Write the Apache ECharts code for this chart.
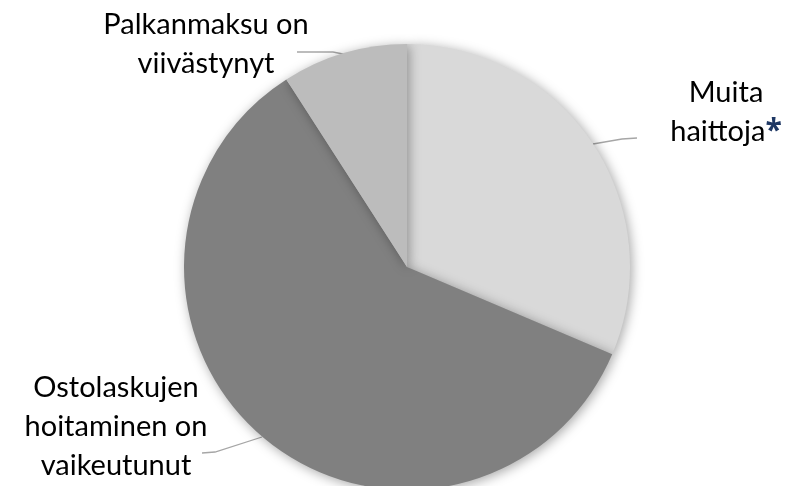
<!DOCTYPE html>
<html>
<head>
<meta charset="utf-8">
<script src="https://cdn.jsdelivr.net/npm/echarts@6/dist/echarts.min.js"></script>
<style>
  html, body { margin: 0; padding: 0; background: #fff; }
  #chart { width: 785px; height: 486px; }
</style>
</head>
<body>
<div id="chart"></div>
<script>
// slice names and shares (%), clockwise from 12 o'clock
const categories = ['Muita haittoja', 'Ostolaskujen hoitaminen on vaikeutunut', 'Palkanmaksu on viivästynyt'];
const labelTexts = ['Muita\n{t|haittoja}{s|*}', 'Ostolaskujen\nhoitaminen on\nvaikeutunut', 'Palkanmaksu on\nviivästynyt'];
const values = [31.4, 59.5, 9.1];
const colors = ['#d9d9d9', '#808080', '#bcbcbc'];

// where each label sits and how its leader line runs
const labelPlaces = [
    { x: 726, y: 112, line: [[593, 144], [622, 139], [637, 138]] },
    { x: 116, y: 427, line: [[262, 437], [215, 452], [202, 453]] },
    { x: 206, y: 44, line: [[343, 54], [333, 52], [297, 52]] }
];

let pieData = [];
for (let i = 0; i < categories.length; i++) {
    pieData.push({
        name: categories[i],
        value: values[i],
        itemStyle: { color: colors[i] },
        label: { formatter: labelTexts[i] }
    });
}

let myChart = echarts.init(document.getElementById('chart'));
let option = {
    animation: false,
    series: [{
        type: 'pie',
        center: [407, 267],
        radius: 223,
        startAngle: 90,
        clockwise: true,
        avoidLabelOverlap: false,
        itemStyle: {
            borderWidth: 0,
            shadowBlur: 12,
            shadowColor: 'rgba(0, 0, 0, 0.35)',
            shadowOffsetX: 2,
            shadowOffsetY: 2
        },
        label: {
            show: true,
            position: 'outside',
            fontFamily: 'Lato',
            fontSize: 29,
            lineHeight: 39,
            color: '#000',
            align: 'center',
            rich: {
                t: { fontFamily: 'Lato', fontSize: 29, lineHeight: 39, color: '#000' },
                s: { fontFamily: 'Open Sans', fontSize: 30, lineHeight: 39, fontWeight: 'bold', color: '#1f3864' }
            }
        },
        labelLine: {
            show: true,
            lineStyle: { color: '#a6a6a6', width: 1.3 }
        },
        labelLayout: function (params) {
            let place = labelPlaces[params.dataIndex];
            return {
                x: place.x,
                y: place.y,
                align: 'center',
                verticalAlign: 'middle',
                labelLinePoints: place.line
            };
        },
        data: pieData
    }]
};

option && myChart.setOption(option);
</script>
</body>
</html>
